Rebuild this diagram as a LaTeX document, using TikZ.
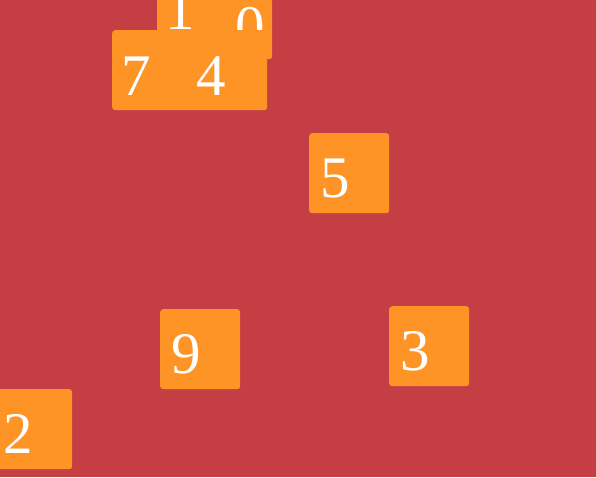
\documentclass[tikz,border=0pt]{standalone}
\usepackage{fontspec}
\setmainfont{Liberation Serif}
\usepackage{xcolor}
\usetikzlibrary{positioning,calc}

\definecolor{bgred}{RGB}{197,62,67}
\definecolor{tileorange}{RGB}{255,148,38}

\tikzset{
    tile/.style={fill=tileorange, rounded corners=3pt, minimum width=80pt, minimum height=80pt, inner sep=0pt, anchor=north west},
    digit/.style={text=white, font=\fontsize{59}{60}\selectfont, inner sep=0pt, anchor=base west}
}

\begin{document}
\begin{tikzpicture}[x=1pt, y=-1pt]
    % Background
    \fill[bgred] (0,0) rectangle (596,477);
    \useasboundingbox (0,0) rectangle (596,477);

    % Top tiles
    \node[tile] (s1) at (157,-35) {};
    \node[digit] (d1) at (165,29) {1};
    \node[tile] (s0) at (192,-21) {};
    \node[digit] (d0) at (235,46) {0};

    % Middle row
    \node[tile] (s7) at (112,30) {};
    \node[digit] (d7) at (121,95) {7};
    \node[tile] (s4) at (187,30) {};
    \node[digit] (d4) at (196,95) {4};

    % Scattered tiles
    \node[tile] (s5) at (309,133) {};
    \node[digit] (d5) at (320,197) {5};

    \node[tile] (s9) at (160,309) {};
    \node[digit] (d9) at (171,373) {9};

    \node[tile] (s3) at (389,306) {};
    \node[digit] (d3) at (400,370) {3};

    \node[tile] (s2) at (-8,389) {};
    \node[digit] (d2) at (3,453) {2};
\end{tikzpicture}
\end{document}
